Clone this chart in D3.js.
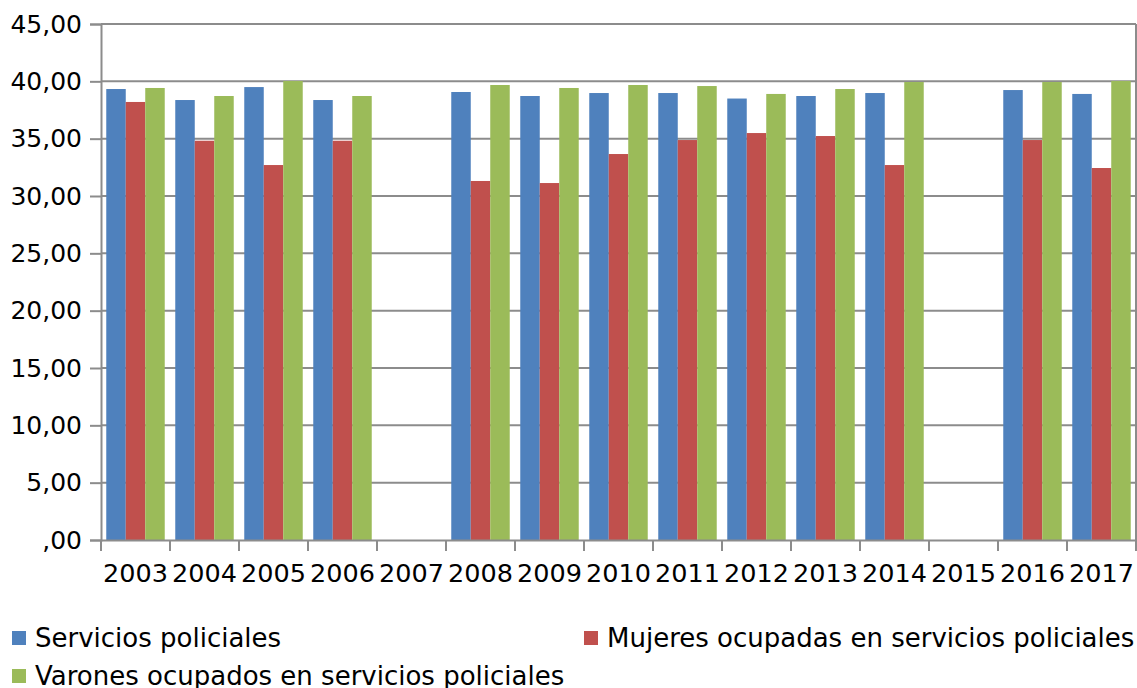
<!DOCTYPE html>
<html><head><meta charset="utf-8">
<script src="https://cdn.jsdelivr.net/npm/d3@7"></script>
<style>body{margin:0;background:#fff}svg{display:block}text{font-family:"DejaVu Sans",sans-serif;fill:#000}</style>
</head><body><svg id="c" width="1137" height="688"></svg>
<script>
const years = ["2003","2004","2005","2006","2007","2008","2009","2010","2011","2012","2013","2014","2015","2016","2017"];
const seriesNames = ["Servicios policiales","Mujeres ocupadas en servicios policiales","Varones ocupados en servicios policiales"];
const servicios = [39.33,38.37,39.5,38.37,null,39.07,38.72,38.98,38.98,38.5,38.72,38.98,null,39.24,38.9];
const mujeres   = [38.2,34.82,32.7,34.82,null,31.31,31.13,33.66,34.88,35.49,35.23,32.7,null,34.88,32.44];
const varones   = [39.42,38.72,40.03,38.72,null,39.68,39.42,39.68,39.59,38.9,39.33,39.94,null,39.94,40.03];
const yTicks = [0,5,10,15,20,25,30,35,40,45];
const colors = ["#4f81bd","#c0504d","#9bbb59"];
const series = [servicios, mujeres, varones];

const svg = d3.select("#c");
const L = 101, R = 1136, T = 24, B = 540;
const x = d3.scaleBand().domain(years).range([L, R]).paddingInner(0).paddingOuter(0);
const y = d3.scaleLinear().domain([0,45]).range([B, T]);
const inner = d3.scaleBand().domain([0,1,2]).range([0, x.bandwidth()]).paddingOuter(0.27).paddingInner(0);
const fmt = v => v === 0 ? ",00" : d3.format(".2f")(v).replace(".", ",");

// gridlines
svg.append("g").selectAll("line").data(yTicks.filter(d=>d>0)).join("line")
  .attr("x1", L).attr("x2", R).attr("y1", d=>y(d)).attr("y2", d=>y(d))
  .attr("stroke", "#8c8c8c").attr("stroke-width", 2);
// right border
svg.append("line").attr("x1",R).attr("x2",R).attr("y1",T).attr("y2",B).attr("stroke","#8c8c8c").attr("stroke-width",2);

// bars
series.forEach((s, si) => {
  svg.append("g").selectAll("rect").data(years.map((yr,i)=>({yr, v:s[i]})).filter(d=>d.v!=null)).join("rect")
    .attr("x", d => x(d.yr) + inner(si))
    .attr("width", inner.bandwidth())
    .attr("y", d => y(d.v))
    .attr("height", d => y(0) - y(d.v))
    .attr("fill", colors[si]);
});

// y axis
const yAxis = d3.axisLeft(y).tickValues(yTicks).tickFormat(fmt).tickSize(11).tickPadding(8);
const gy = svg.append("g").attr("transform", `translate(${L},0)`).call(yAxis);
gy.select(".domain").attr("stroke","#8c8c8c").attr("stroke-width",2);
gy.selectAll(".tick line").attr("stroke","#8c8c8c").attr("stroke-width",2);
gy.selectAll(".tick text").attr("font-size", 25).attr("font-family","DejaVu Sans").attr("fill","#000");

// x axis
const gx = svg.append("g").attr("transform", `translate(0,${B})`)
  .call(d3.axisBottom(x).tickSize(0).tickPadding(24));
gx.select(".domain").attr("stroke","#8c8c8c").attr("stroke-width",2);
gx.selectAll(".tick text").attr("font-size", 25.5).attr("font-family","DejaVu Sans").attr("fill","#000");
svg.append("g").selectAll("line").data(years.concat(["end"])).join("line")
  .attr("x1", (d,i)=> L + i*x.step()).attr("x2", (d,i)=> L + i*x.step())
  .attr("y1", B).attr("y2", B+11).attr("stroke","#8c8c8c").attr("stroke-width",2);

// legend
const legendPos = [[12,638],[584,638],[12,676]];
seriesNames.forEach((n,i)=>{
  const [lx,ly] = legendPos[i];
  svg.append("rect").attr("x",lx).attr("y",ly-7).attr("width",14).attr("height",14).attr("fill",colors[i]);
  svg.append("text").attr("x",lx+23).attr("y",ly).attr("dy","0.35em").attr("font-size",26).text(n);
});
</script></body></html>
